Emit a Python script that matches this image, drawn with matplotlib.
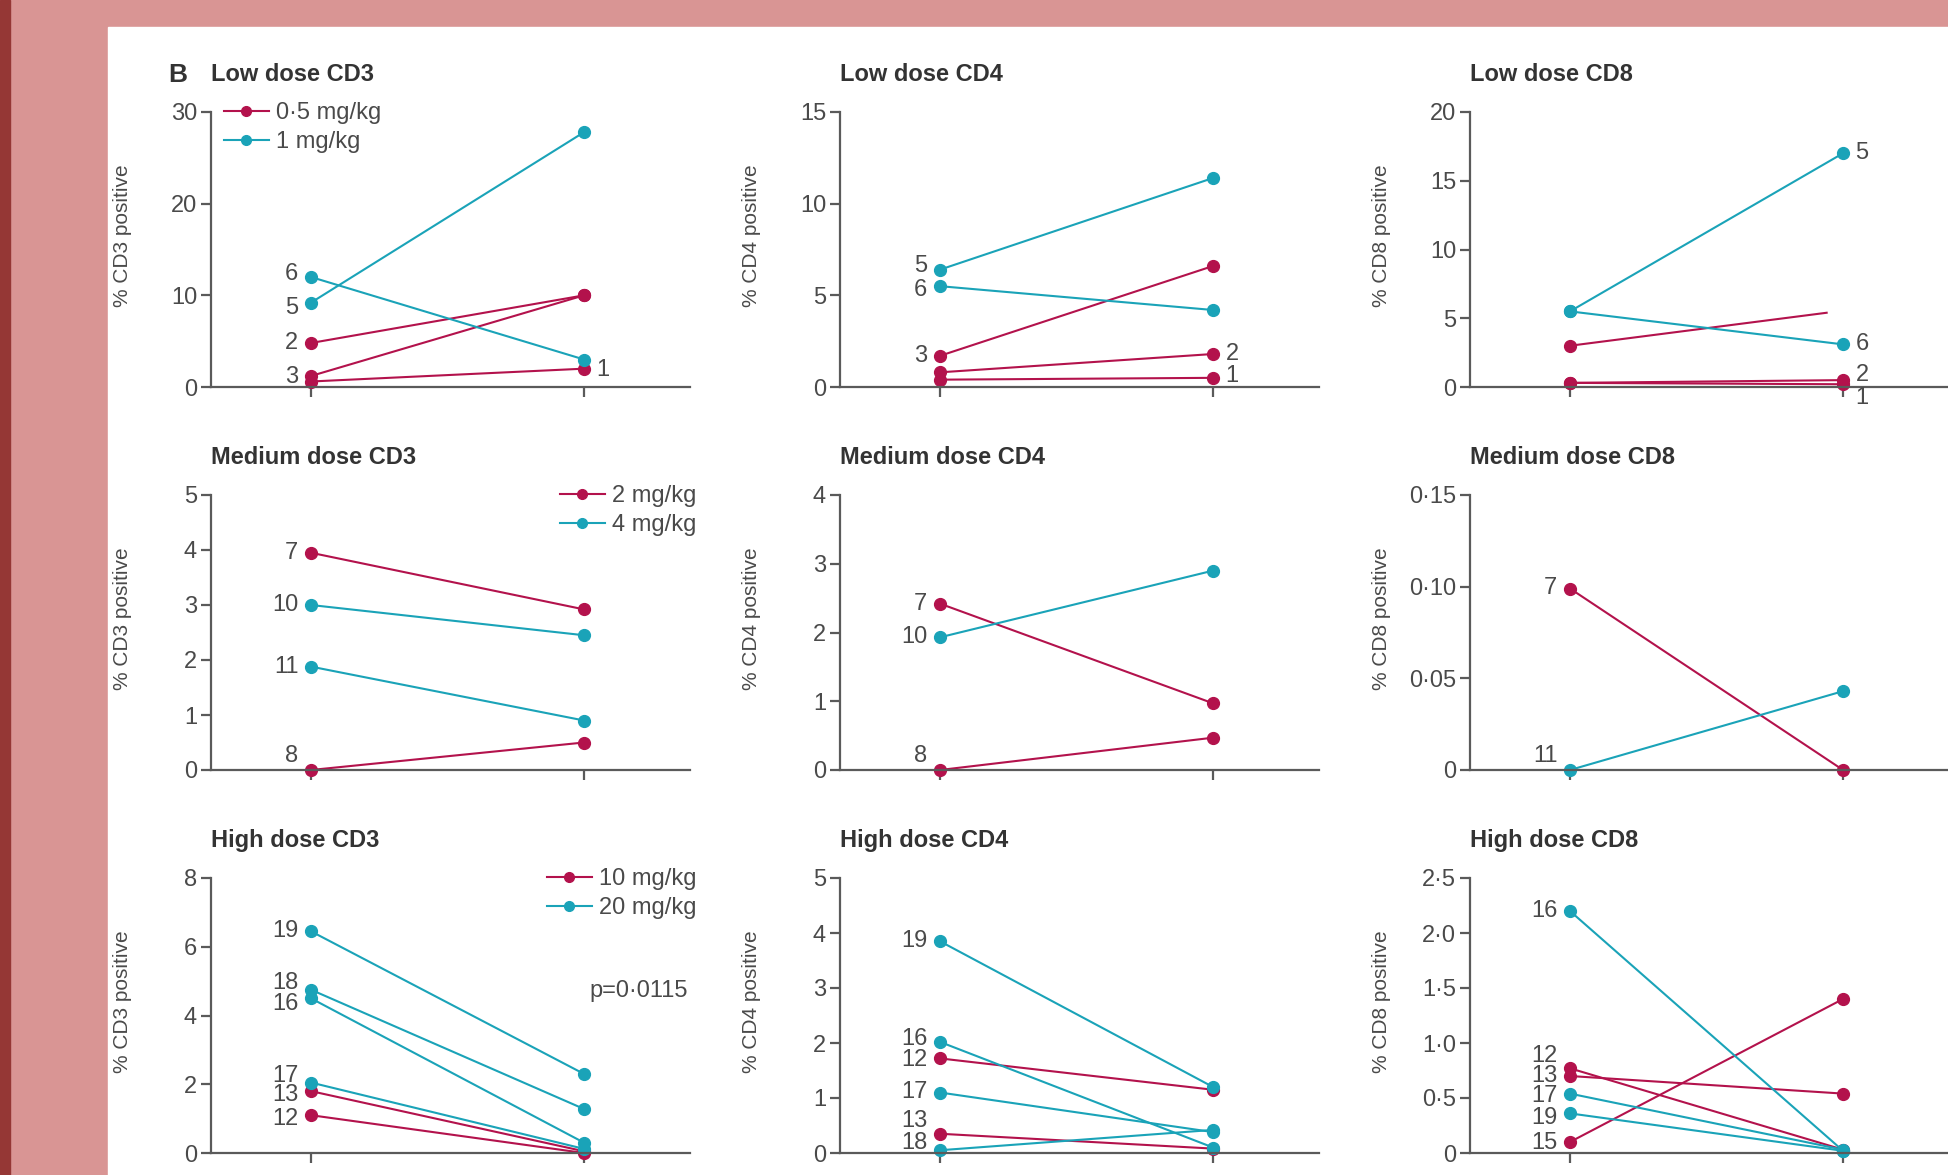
import matplotlib.pyplot as plt
from matplotlib.lines import Line2D
from matplotlib.patches import Rectangle
from matplotlib.ticker import FuncFormatter

plt.rcParams['font.family'] = ['Liberation Sans Narrow', 'Liberation Sans', 'DejaVu Sans']

MAG = '#b3124c'
TEAL = '#1aa3b8'
AXC = '#5a5a5a'
TXT = '#4a4a4a'

# ---- data (patient id, dose group, % positive before / after) ----
# low dose: group 0 = 0.5 mg/kg, group 1 = 1 mg/kg
low_cd3_ids = [1, 2, 3, 5, 6]
low_cd3_grp = [0, 0, 0, 1, 1]
low_cd3_pre = [0.6, 4.8, 1.2, 9.2, 12.0]
low_cd3_post = [2.0, 10.0, 10.0, 27.8, 3.0]

low_cd4_ids = [1, 2, 3, 5, 6]
low_cd4_grp = [0, 0, 0, 1, 1]
low_cd4_pre = [0.4, 0.8, 1.7, 6.4, 5.5]
low_cd4_post = [0.5, 1.8, 6.6, 11.4, 4.2]

low_cd8_ids = [1, 2, 3, 5, 6]
low_cd8_grp = [0, 0, 0, 1, 1]
low_cd8_pre = [0.3, 0.3, 3.0, 5.5, 5.5]
low_cd8_post = [0.2, 0.5, 5.4, 17.0, 3.1]
low_cd8_open = [3]   # line drawn without an end point

# medium dose: group 0 = 2 mg/kg, group 1 = 4 mg/kg
med_cd3_ids = [7, 8, 10, 11]
med_cd3_grp = [0, 0, 1, 1]
med_cd3_pre = [3.95, 0.0, 3.0, 1.88]
med_cd3_post = [2.92, 0.5, 2.45, 0.9]

med_cd4_ids = [7, 8, 10]
med_cd4_grp = [0, 0, 1]
med_cd4_pre = [2.42, 0.0, 1.93]
med_cd4_post = [0.97, 0.47, 2.9]

med_cd8_ids = [7, 11]
med_cd8_grp = [0, 1]
med_cd8_pre = [0.099, 0.0]
med_cd8_post = [0.0, 0.043]

# high dose: group 0 = 10 mg/kg, group 1 = 20 mg/kg
high_cd3_ids = [12, 13, 16, 17, 18, 19]
high_cd3_grp = [0, 0, 1, 1, 1, 1]
high_cd3_pre = [1.1, 1.8, 4.5, 2.05, 4.75, 6.45]
high_cd3_post = [0.0, 0.05, 0.3, 0.12, 1.28, 2.3]

high_cd4_ids = [12, 13, 16, 17, 18, 19]
high_cd4_grp = [0, 0, 1, 1, 1, 1]
high_cd4_pre = [1.72, 0.35, 2.02, 1.1, 0.05, 3.85]
high_cd4_post = [1.15, 0.08, 0.1, 0.38, 0.42, 1.2]

high_cd8_ids = [12, 13, 15, 16, 17, 19]
high_cd8_grp = [0, 0, 0, 1, 1, 1]
high_cd8_pre = [0.77, 0.7, 0.1, 2.2, 0.54, 0.36]
high_cd8_post = [0.03, 0.54, 1.4, 0.02, 0.03, 0.02]

low_doses = ['0·5 mg/kg', '1 mg/kg']
med_doses = ['2 mg/kg', '4 mg/kg']
high_doses = ['10 mg/kg', '20 mg/kg']
p_high_cd3 = 'p=0·0115'

# ---- layout ----
W, H = 1949, 1175
fig = plt.figure(figsize=(W / 100, H / 100), dpi=100)
fig.patch.set_facecolor('#d99594')
fig.patches.append(Rectangle((0, 0), 10 / W, 1, transform=fig.transFigure,
                             color='#953735', zorder=-10))
fig.patches.append(Rectangle((108 / W, 0), 1, 1 - 27 / H, transform=fig.transFigure,
                             color='white', zorder=-10))

col_left = [211, 840, 1470]
row_top = [112, 495, 878]
aw, ah = 479, 275


def fmt(dec):
    def f(v, pos):
        if abs(v) < 1e-9:
            return '0'
        return ('%.*f' % (dec, v)).replace('.', '·')
    return FuncFormatter(f)


def panel(r, c, title, ids, grp, pre, post, ymax, step, dec, ylab, labels, open_ids=()):
    ax = fig.add_axes([col_left[c] / W, 1 - (row_top[r] + ah) / H, aw / W, ah / H])
    ax.set_facecolor('none')
    ax.set_xlim(-0.366, 1.388)
    ax.set_ylim(0, ymax)
    for s in ['top', 'right']:
        ax.spines[s].set_visible(False)
    for s in ['left', 'bottom']:
        ax.spines[s].set_color(AXC)
        ax.spines[s].set_linewidth(1.6)
    ax.set_xticks([0, 1])
    ax.set_xticklabels([])
    ticks = [i * step for i in range(int(round(ymax / step)) + 1)]
    ax.set_yticks(ticks)
    ax.yaxis.set_major_formatter(fmt(dec))
    ax.tick_params(direction='out', length=7, width=1.6, color=AXC, labelsize=17,
                   labelcolor=TXT, pad=3)
    ax.set_ylabel(ylab, fontsize=15, color=TXT)
    ax.yaxis.set_label_coords(-0.165, 0.55)
    ax.text(0, 1.135, title, transform=ax.transAxes, fontsize=17, color='#333333',
            fontweight='bold', va='center', ha='left')
    for i in range(len(ids)):
        col = MAG if grp[i] == 0 else TEAL
        if ids[i] in open_ids:
            ax.plot([0, 0.94], [pre[i], post[i]], color=col, lw=1.5, clip_on=False)
            ax.plot([0], [pre[i]], 'o', color=col, ms=8.5, clip_on=False)
        else:
            ax.plot([0, 1], [pre[i], post[i]], '-o', color=col, lw=1.5, ms=8.5, clip_on=False)
    for pid, side, dy in labels:
        i = ids.index(pid)
        if side == 'L':
            ax.annotate(str(pid), (0, pre[i]), xytext=(-9, dy), textcoords='offset points',
                        ha='right', va='center', fontsize=17, color=TXT, annotation_clip=False)
        else:
            ax.annotate(str(pid), (1, post[i]), xytext=(9, dy), textcoords='offset points',
                        ha='left', va='center', fontsize=17, color=TXT, annotation_clip=False)
    return ax


def legend(ax, doses, loc, anchor):
    h = [Line2D([0], [0], color=c, marker='o', lw=1.5, ms=7) for c in (MAG, TEAL)]
    ax.legend(h, doses, loc=loc, bbox_to_anchor=anchor, frameon=False, fontsize=17,
              handlelength=1.9, handletextpad=0.3, labelspacing=0.3, borderpad=0,
              borderaxespad=0, labelcolor=TXT)


ax = panel(0, 0, 'Low dose CD3', low_cd3_ids, low_cd3_grp, low_cd3_pre, low_cd3_post,
           30, 10, 0, '% CD3 positive',
           [(6, 'L', 2), (5, 'L', -4), (2, 'L', 0), (3, 'L', -1), (1, 'R', -1)])
ax.text(-0.05, 1.135, 'B', transform=ax.transAxes, fontsize=19, fontweight='bold',
        color='#333333', ha='right', va='center')
legend(ax, low_doses, 'upper left', (0.027, 1.035))

panel(0, 1, 'Low dose CD4', low_cd4_ids, low_cd4_grp, low_cd4_pre, low_cd4_post,
      15, 5, 0, '% CD4 positive',
      [(5, 'L', 3), (6, 'L', -3), (3, 'L', 0), (2, 'R', 0), (1, 'R', 1)])
panel(0, 2, 'Low dose CD8', low_cd8_ids, low_cd8_grp, low_cd8_pre, low_cd8_post,
      20, 5, 0, '% CD8 positive',
      [(5, 'R', 0), (6, 'R', 0), (2, 'R', 4), (1, 'R', -10)], open_ids=low_cd8_open)

ax = panel(1, 0, 'Medium dose CD3', med_cd3_ids, med_cd3_grp, med_cd3_pre, med_cd3_post,
           5, 1, 0, '% CD3 positive',
           [(7, 'L', 0), (10, 'L', 0), (11, 'L', 0), (8, 'L', 10)])
legend(ax, med_doses, 'upper right', (1.013, 1.035))
panel(1, 1, 'Medium dose CD4', med_cd4_ids, med_cd4_grp, med_cd4_pre, med_cd4_post,
      4, 1, 0, '% CD4 positive',
      [(7, 'L', 0), (10, 'L', 0), (8, 'L', 10)])
panel(1, 2, 'Medium dose CD8', med_cd8_ids, med_cd8_grp, med_cd8_pre, med_cd8_post,
      0.15, 0.05, 2, '% CD8 positive',
      [(7, 'L', 0), (11, 'L', 10)])

ax = panel(2, 0, 'High dose CD3', high_cd3_ids, high_cd3_grp, high_cd3_pre, high_cd3_post,
           8, 2, 0, '% CD3 positive',
           [(19, 'L', 0), (18, 'L', 5), (16, 'L', -4), (17, 'L', 5), (13, 'L', -3), (12, 'L', -3)])
legend(ax, high_doses, 'upper right', (1.013, 1.035))
ax.text(1.2, 4.7, p_high_cd3, fontsize=17, color=TXT, ha='center', va='center')
panel(2, 1, 'High dose CD4', high_cd4_ids, high_cd4_grp, high_cd4_pre, high_cd4_post,
      5, 1, 0, '% CD4 positive',
      [(19, 'L', 0), (16, 'L', 2), (12, 'L', -1), (17, 'L', 0), (13, 'L', 9), (18, 'L', 5)])
panel(2, 2, 'High dose CD8', high_cd8_ids, high_cd8_grp, high_cd8_pre, high_cd8_post,
      2.5, 0.5, 1, '% CD8 positive',
      [(16, 'L', 0), (12, 'L', 9), (13, 'L', 0), (17, 'L', -2), (19, 'L', -3), (15, 'L', -1)])

fig.savefig('out.png', dpi=100, facecolor=fig.get_facecolor())
